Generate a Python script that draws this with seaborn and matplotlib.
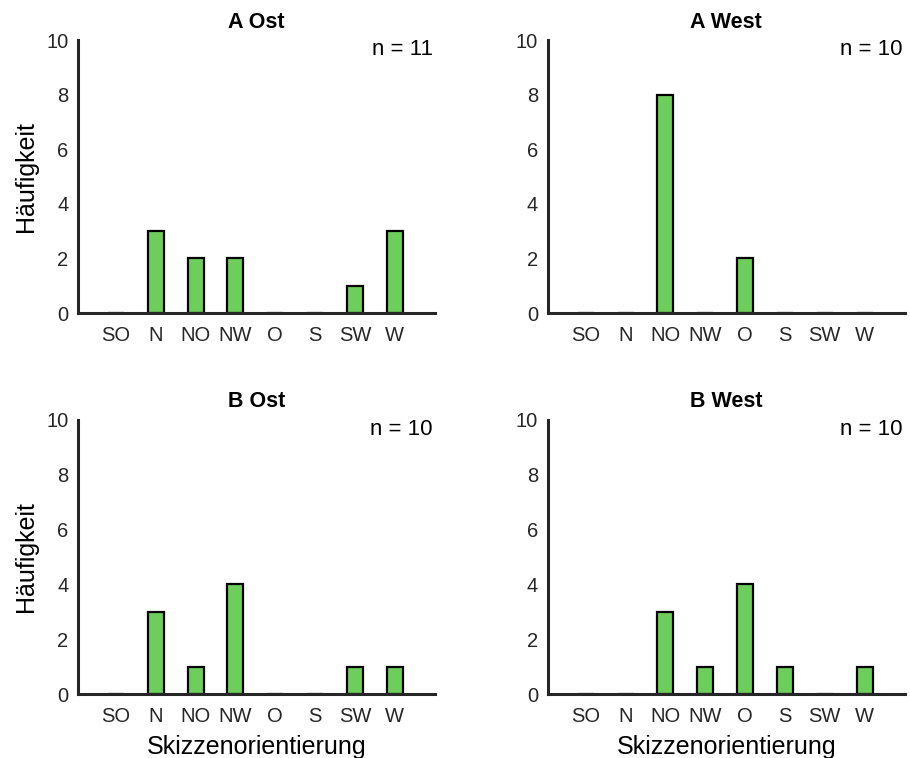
import matplotlib
matplotlib.use("Agg")
import matplotlib.pyplot as plt
import seaborn as sns

# Orientation categories and counts per panel
categories = ["SO", "N", "NO", "NW", "O", "S", "SW", "W"]
a_ost = [0, 3, 2, 2, 0, 0, 1, 3]
a_west = [0, 0, 8, 0, 2, 0, 0, 0]
b_ost = [0, 3, 1, 4, 0, 0, 1, 1]
b_west = [0, 0, 3, 1, 4, 1, 0, 1]
titles = ["A Ost", "A West", "B Ost", "B West"]
n_labels = ["n = 11", "n = 10", "n = 10", "n = 10"]

sns.set_theme(style="white")
plt.rcParams["font.family"] = ["Liberation Sans", "DejaVu Sans"]

BAR_COLOR = "#6dce5b"
TEXT_GRAY = "#262626"

fig = plt.figure(figsize=(9.1, 7.58), dpi=100)
# axes rectangles in figure fraction: [left, bottom, width, height]
rects = [
    [0.0857, 0.587, 0.392, 0.360],
    [0.602, 0.587, 0.392, 0.360],
    [0.0857, 0.0844, 0.392, 0.3616],
    [0.602, 0.0844, 0.392, 0.3616],
]
data = [a_ost, a_west, b_ost, b_west]

for i, (rect, vals) in enumerate(zip(rects, data)):
    ax = fig.add_axes(rect)
    sns.barplot(x=categories, y=vals, ax=ax, color=BAR_COLOR, saturation=1,
                width=0.4, edgecolor="black", linewidth=1.6)
    ax.set_xlim(-0.95, 8.0)
    ax.set_ylim(0, 10)
    ax.set_yticks([0, 2, 4, 6, 8, 10])
    sns.despine(ax=ax)
    for side in ["left", "bottom"]:
        ax.spines[side].set_linewidth(2.2)
        ax.spines[side].set_color("#262626")
    ax.tick_params(axis="both", direction="in", length=4, width=2,
                   labelsize=14.5, labelcolor=TEXT_GRAY, color="#262626")
    ax.tick_params(axis="x", pad=9)
    ax.tick_params(axis="y", pad=7)
    ax.set_title(titles[i], fontsize=15.5, fontweight="bold", pad=9, color="black")
    ax.text(0.995, 1.005, n_labels[i], transform=ax.transAxes, ha="right", va="top",
            fontsize=16, color="black")
    ax.set_ylabel("Häufigkeit" if i % 2 == 0 else "", fontsize=18, color="black", labelpad=6)
    ax.set_xlabel("Skizzenorientierung" if i >= 2 else "", fontsize=18, color="black", labelpad=7)

fig.savefig("out.png", dpi=100)
